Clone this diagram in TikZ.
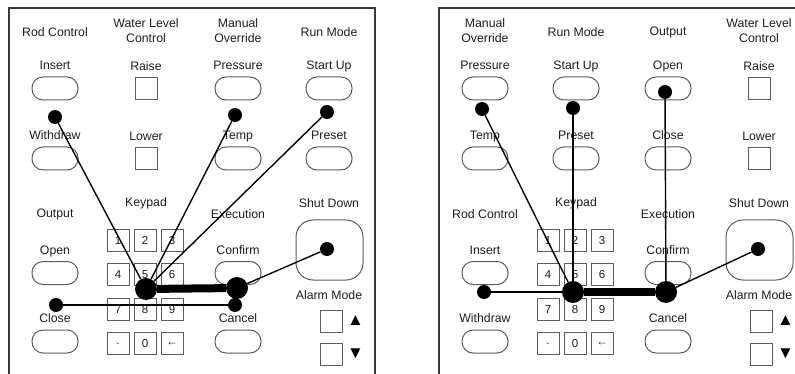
\documentclass[tikz,border=0pt]{standalone}
\usepackage{fontspec}
\setmainfont{Liberation Sans}
\usetikzlibrary{positioning}
\definecolor{PanelEdge}{HTML}{3A3A3A}
\definecolor{KeyEdge}{HTML}{5C5C5C}
\definecolor{LabelInk}{HTML}{1E1E1E}

\begin{document}
\begin{tikzpicture}[x=1pt,y=-1pt,>=latex]
\tikzstyle{lbl}=[font=\fontsize{12.3}{15}\selectfont,text=LabelInk,inner sep=0pt,align=center]
\tikzstyle{btnlbl}=[lbl,text height=9pt,text depth=2.5pt]
\tikzstyle{pill}=[draw=KeyEdge,line width=1pt,minimum width=46pt,minimum height=23pt,
                  rounded corners=11pt,inner sep=0pt]
\tikzstyle{sqkey}=[draw=KeyEdge,line width=1pt,minimum size=22pt,inner sep=0pt,
                   font=\fontsize{11.5}{12}\selectfont,text=LabelInk]
\tikzstyle{bigkey}=[draw=KeyEdge,line width=1pt,minimum width=67pt,minimum height=60pt,
                    rounded corners=17pt]
\tikzstyle{tri}=[font=\fontsize{17}{17}\selectfont,inner sep=0pt]
\tikzstyle{dot}=[circle,fill=black,minimum size=14pt,inner sep=0pt]
\tikzstyle{hub}=[circle,fill=black,minimum size=22pt,inner sep=0pt]
\tikzstyle{frame}=[draw=PanelEdge,line width=1.6pt]
\tikzstyle{wire}=[line width=1.4pt]
\tikzstyle{bus}=[line width=8pt]
\newcommand{\keyblock}[1]{%
  \node[lbl] (#1kp) at (146,203) {Keypad};
  \foreach \k [count=\i from 0] in {1,2,3,4,5,6,7,8,9,.,0,←}{
    \pgfmathtruncatemacro\kc{mod(\i,3)}
    \pgfmathtruncatemacro\kr{div(\i,3)}
    \node[sqkey] (#1k\i) at (118+27*\kc,240.5+34.3*\kr) {\k};
  }}
\newcommand{\alarmblock}[1]{%
  \node[lbl] (#1sdt) at (329,203) {Shut Down};
  \node[bigkey] (#1sd) at (329.5,250) {};
  \node[lbl] (#1alt) at (329,295) {Alarm Mode};
  \node[sqkey] (#1aup) at (331.5,321) {};
  \node[sqkey] (#1adn) at (331.5,354) {};
  \node[tri,right=4pt of #1aup] (#1tup) {▲};
  \node[tri,right=4pt of #1adn] (#1tdn) {▼};}
\useasboundingbox (0,0) rectangle (795,374);

% left panel
\draw[frame] (9,374) |- (375,8) -- (375,374);
\node[lbl] (Lhrod) at (55,32) {Rod Control};
\node[lbl] (Lhwat) at (146,30.5) {Water Level\\Control};
\node[lbl] (Lhman) at (238,30.5) {Manual\\Override};
\node[lbl] (Lhrun) at (329,32) {Run Mode};
\node[pill] (Lins) at (55,88.5) {};
\node[btnlbl,above=4pt of Lins] (Linst) {Insert};
\node[sqkey] (Lrai) at (146,89) {};
\node[btnlbl,above=4pt of Lrai] (Lrait) {Raise};
\node[pill] (Lpre) at (238,88.5) {};
\node[btnlbl,above=4pt of Lpre] (Lpret) {Pressure};
\node[pill] (Lsta) at (329,88.5) {};
\node[btnlbl,above=4pt of Lsta] (Lstat) {Start Up};
\node[pill] (Lwdr) at (55,158.5) {};
\node[btnlbl,above=4pt of Lwdr] (Lwdrt) {Withdraw};
\node[sqkey] (Llow) at (146,159) {};
\node[btnlbl,above=4pt of Llow] (Llowt) {Lower};
\node[pill] (Ltmp) at (238,158.5) {};
\node[btnlbl,above=4pt of Ltmp] (Ltmpt) {Temp};
\node[pill] (Lpst) at (329,158.5) {};
\node[btnlbl,above=4pt of Lpst] (Lpstt) {Preset};
\node[lbl] (Lhout) at (55,214) {Output};
\node[pill] (Lopn) at (55,273) {};
\node[btnlbl,above=4pt of Lopn] (Lopnt) {Open};
\node[pill] (Lcls) at (55,341.5) {};
\node[btnlbl,above=4pt of Lcls] (Lclst) {Close};
\keyblock{L}
\node[lbl] (Lhexe) at (238,214) {Execution};
\node[pill] (Lcnf) at (238,273) {};
\node[btnlbl,above=4pt of Lcnf] (Lcnft) {Confirm};
\node[pill] (Lcan) at (238,341.5) {};
\node[btnlbl,above=4pt of Lcan] (Lcant) {Cancel};
\alarmblock{L}

% right panel
\begin{scope}[xshift=430]
\draw[frame] (9,374) |- (365,8);
\node[lbl] (Rhman) at (55,30.5) {Manual\\Override};
\node[lbl] (Rhrun) at (146,32) {Run Mode};
\node[lbl] (Rhout) at (238,32) {Output};
\node[lbl] (Rhwat) at (329,30.5) {Water Level\\Control};
\node[pill] (Rpre) at (55,88.5) {};
\node[btnlbl,above=4pt of Rpre] (Rpret) {Pressure};
\node[pill] (Rsta) at (146,88.5) {};
\node[btnlbl,above=4pt of Rsta] (Rstat) {Start Up};
\node[pill] (Ropn) at (238,88.5) {};
\node[btnlbl,above=4pt of Ropn] (Ropnt) {Open};
\node[sqkey] (Rrai) at (329,89) {};
\node[btnlbl,above=4pt of Rrai] (Rrait) {Raise};
\node[pill] (Rtmp) at (55,158.5) {};
\node[btnlbl,above=4pt of Rtmp] (Rtmpt) {Temp};
\node[pill] (Rpst) at (146,158.5) {};
\node[btnlbl,above=4pt of Rpst] (Rpstt) {Preset};
\node[pill] (Rcls) at (238,158.5) {};
\node[btnlbl,above=4pt of Rcls] (Rclst) {Close};
\node[sqkey] (Rlow) at (329,159) {};
\node[btnlbl,above=4pt of Rlow] (Rlowt) {Lower};
\node[lbl] (Rhrod) at (55,214) {Rod Control};
\node[pill] (Rins) at (55,273) {};
\node[btnlbl,above=4pt of Rins] (Rinst) {Insert};
\node[pill] (Rwdr) at (55,341.5) {};
\node[btnlbl,above=4pt of Rwdr] (Rwdrt) {Withdraw};
\keyblock{R}
\node[lbl] (Rhexe) at (238,214) {Execution};
\node[pill] (Rcnf) at (238,273) {};
\node[btnlbl,above=4pt of Rcnf] (Rcnft) {Confirm};
\node[pill] (Rcan) at (238,341.5) {};
\node[btnlbl,above=4pt of Rcan] (Rcant) {Cancel};
\alarmblock{R}
\end{scope}

% link dots, left
\node[dot] (Ldins) at (55,117) {};
\node[dot] (Ldpre) at (235,115) {};
\node[dot] (Ldsta) at (327,112) {};
\node[hub] (Lhub) at (146,289) {};
\node[hub] (Lexe) at (237,288) {};
\node[dot] (Ldsd) at (327,249) {};
\node[dot] (Ldcan) at (235,305) {};
\node[dot] (Ldcls) at (56,305) {};
\draw[wire] (Ldins) -- (Lhub);
\draw[wire] (Ldpre) -- (Lhub);
\draw[wire] (Ldsta) -- (Lhub);
\draw[bus] (Lhub) -- (Lexe);
\draw[wire] (Lexe) -- (Ldsd);
\draw[wire] (Lexe) -- (Ldcan);
\draw[wire] (Ldcan) -- (Ldcls);

% link dots, right
\node[dot] (Rdpre) at (482,109) {};
\node[dot] (Rdsta) at (573,108) {};
\node[dot] (Rdopn) at (665,92) {};
\node[hub] (Rhub) at (573,292) {};
\node[hub] (Rexe) at (666,292) {};
\node[dot] (Rdsd) at (758,249) {};
\node[dot] (Rdins) at (484,292) {};
\draw[wire] (Rdpre) -- (Rhub);
\draw[wire] (Rdsta) -- (Rhub);
\draw[wire] (Rdins) -- (Rhub);
\draw[bus] (Rhub) -- (Rexe);
\draw[wire] (Rdopn) -- (Rexe);
\draw[wire] (Rexe) -- (Rdsd);
\end{tikzpicture}
\end{document}
